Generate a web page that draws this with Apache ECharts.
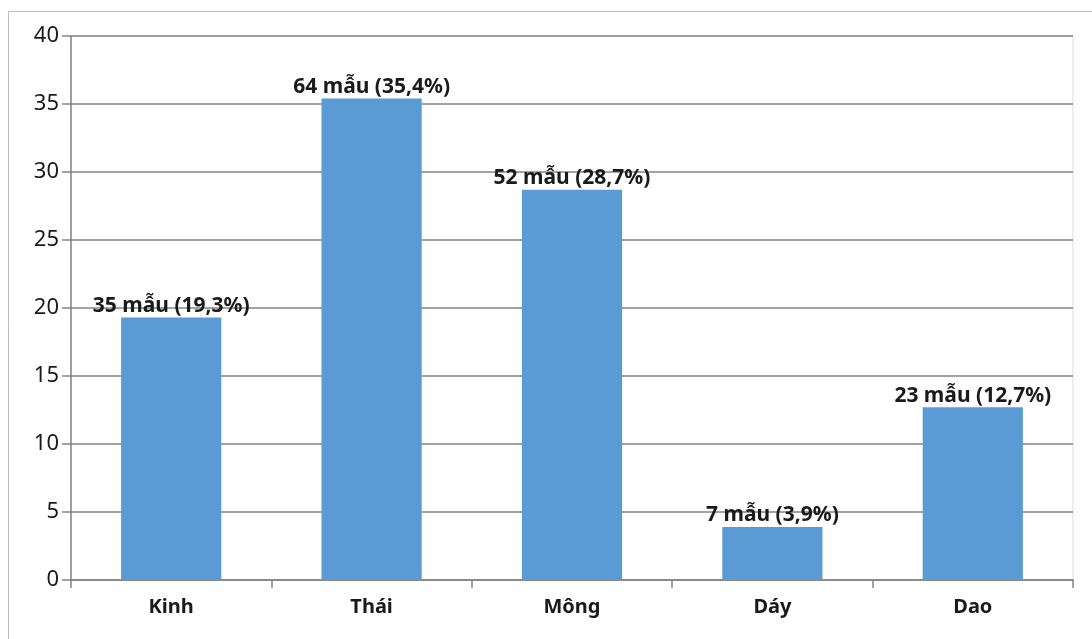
<!DOCTYPE html>
<html>
<head>
<meta charset="utf-8">
<script src="https://cdn.jsdelivr.net/npm/echarts@6/dist/echarts.min.js"></script>
<style>
  html, body { margin: 0; padding: 0; background: #fff; }
  #chart { width: 1092px; height: 639px; }
</style>
</head>
<body>
<div id="chart"></div>
<script>
// Ethnic groups and sample counts with their share of the total
const categories = ['Kinh', 'Thái', 'Mông', 'Dáy', 'Dao'];
const sampleCounts = [35, 64, 52, 7, 23];
const percentages = [19.3, 35.4, 28.7, 3.9, 12.7];
const yTicks = [0, 5, 10, 15, 20, 25, 30, 35, 40];

const fontFamily = '"Noto Sans", "DejaVu Sans", sans-serif';
const textColor = '#1a1a1a';

const chart = echarts.init(document.getElementById('chart'));

chart.setOption({
  animation: false,
  backgroundColor: '#fff',
  graphic: [{
    type: 'rect',
    shape: { x: 8.5, y: 11.5, width: 1200, height: 800 },
    style: { fill: 'none', stroke: '#bdbdbd', lineWidth: 1 },
    silent: true,
    z: -10
  }],
  grid: {
    left: 71, right: 19, top: 36, bottom: 59,
    show: true,
    borderColor: '#dcdcdc',
    borderWidth: 1
  },
  xAxis: {
    type: 'category',
    data: categories,
    axisLine: { lineStyle: { color: '#848484', width: 1.5 } },
    axisTick: { show: true, length: 8, lineStyle: { color: '#848484', width: 1.5 } },
    axisLabel: {
      color: textColor, fontFamily, fontSize: 20, fontWeight: 'bold', margin: 17
    }
  },
  yAxis: {
    type: 'value',
    min: yTicks[0],
    max: yTicks[yTicks.length - 1],
    interval: 5,
    axisLine: { show: true, lineStyle: { color: '#848484', width: 1.5 } },
    axisTick: { show: true, length: 9, lineStyle: { color: '#848484', width: 1.5 } },
    axisLabel: { color: textColor, fontFamily, fontSize: 22, margin: 12 },
    splitLine: { show: true, lineStyle: { color: '#848484', width: 1.5 } }
  },
  series: [{
    type: 'bar',
    data: percentages,
    barWidth: '50%',
    itemStyle: { color: '#5b9bd5' },
    label: {
      show: true,
      position: 'top',
      distance: 1,
      color: textColor,
      fontFamily,
      fontSize: 21,
      fontWeight: 'bold',
      formatter: p => sampleCounts[p.dataIndex] + ' mẫu (' +
        String(percentages[p.dataIndex]).replace('.', ',') + '%)'
    }
  }]
});
</script>
</body>
</html>
